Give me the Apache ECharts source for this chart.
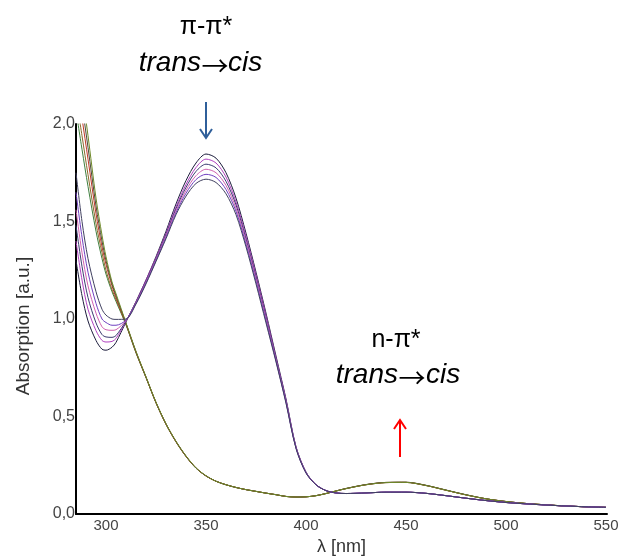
<!DOCTYPE html>
<html>
<head>
<meta charset="utf-8">
<script src="https://cdn.jsdelivr.net/npm/echarts@6/dist/echarts.min.js"></script>
<style>html,body{margin:0;padding:0;background:#fff}#c{width:618px;height:557px}</style>
</head>
<body>
<div id="c"></div>
<script>
// wavelengths (nm)
var wl = [285,288,291,295,298,300,303,305,310,315,320,325,330,335,340,345,350,355,360,365,370,375,380,385,390,395,400,405,410,415,420,430,440,450,460,470,480,490,500,510,520,530,540,550];

// trans-rich family (purple), pi-pi* band decreasing during irradiation
var trans1 = [1.30,1.12,0.99,0.89,0.845,0.840,0.855,0.88,0.985,1.09,1.20,1.32,1.45,1.59,1.71,1.80,1.846,1.825,1.75,1.62,1.44,1.24,1.03,0.81,0.59,0.345,0.215,0.15,0.12,0.108,0.105,0.108,0.112,0.112,0.106,0.094,0.081,0.069,0.059,0.052,0.046,0.041,0.037,0.034];
var trans2 = [1.40,1.20,1.05,0.94,0.89,0.882,0.885,0.90,0.988,1.088,1.20,1.315,1.44,1.575,1.69,1.777,1.820,1.80,1.728,1.60,1.425,1.228,1.02,0.80,0.585,0.343,0.214,0.15,0.12,0.108,0.105,0.108,0.112,0.112,0.106,0.094,0.081,0.069,0.059,0.052,0.046,0.041,0.037,0.034];
var trans3 = [1.48,1.27,1.11,0.98,0.92,0.908,0.906,0.915,0.99,1.085,1.195,1.31,1.435,1.565,1.675,1.757,1.794,1.775,1.706,1.585,1.41,1.216,1.01,0.795,0.58,0.341,0.213,0.15,0.12,0.108,0.105,0.108,0.112,0.112,0.106,0.094,0.081,0.069,0.059,0.052,0.046,0.041,0.037,0.034];
var trans4 = [1.56,1.34,1.17,1.03,0.96,0.945,0.942,0.945,0.992,1.082,1.19,1.305,1.428,1.555,1.66,1.735,1.768,1.75,1.685,1.568,1.397,1.205,1.00,0.79,0.576,0.34,0.212,0.15,0.12,0.108,0.105,0.108,0.112,0.112,0.106,0.094,0.081,0.069,0.059,0.052,0.046,0.041,0.037,0.034];
var trans5 = [1.65,1.42,1.24,1.08,1.00,0.982,0.968,0.968,0.995,1.08,1.185,1.30,1.42,1.545,1.645,1.715,1.742,1.726,1.664,1.552,1.383,1.193,0.99,0.785,0.572,0.338,0.211,0.15,0.12,0.108,0.105,0.108,0.112,0.112,0.106,0.094,0.081,0.069,0.059,0.052,0.046,0.041,0.037,0.034];
var trans6 = [1.75,1.50,1.31,1.14,1.05,1.02,1.00,0.998,1.00,1.077,1.18,1.295,1.412,1.535,1.63,1.695,1.717,1.70,1.642,1.535,1.37,1.18,0.98,0.78,0.568,0.336,0.21,0.15,0.12,0.108,0.105,0.108,0.112,0.112,0.106,0.094,0.081,0.069,0.059,0.052,0.046,0.041,0.037,0.034];

// cis-rich family (green / brown)
var cis1 = [2.07,1.87,1.68,1.45,1.31,1.23,1.14,1.09,0.97,0.826,0.70,0.57,0.46,0.37,0.295,0.235,0.195,0.168,0.15,0.136,0.125,0.116,0.107,0.099,0.09,0.087,0.088,0.094,0.105,0.118,0.13,0.15,0.161,0.162,0.146,0.122,0.098,0.078,0.064,0.054,0.047,0.041,0.037,0.034];
var cis2 = [2.14,1.94,1.74,1.49,1.34,1.25,1.15,1.10,0.972,0.828,0.70,0.57,0.46,0.37,0.295,0.235,0.195,0.168,0.15,0.136,0.125,0.116,0.107,0.099,0.09,0.087,0.088,0.094,0.105,0.118,0.131,0.151,0.162,0.163,0.147,0.122,0.098,0.078,0.064,0.054,0.047,0.041,0.037,0.034];
var cis3 = [2.24,2.03,1.82,1.54,1.37,1.28,1.17,1.11,0.975,0.83,0.701,0.571,0.461,0.371,0.296,0.236,0.195,0.168,0.15,0.136,0.125,0.116,0.107,0.099,0.09,0.087,0.088,0.094,0.105,0.118,0.13,0.15,0.161,0.162,0.146,0.122,0.098,0.078,0.064,0.054,0.047,0.041,0.037,0.034];
var cis4 = [2.31,2.10,1.88,1.58,1.40,1.30,1.18,1.12,0.978,0.832,0.702,0.572,0.462,0.372,0.297,0.236,0.196,0.168,0.15,0.136,0.125,0.116,0.107,0.099,0.09,0.087,0.088,0.094,0.105,0.118,0.131,0.151,0.162,0.163,0.147,0.123,0.099,0.078,0.064,0.054,0.047,0.041,0.037,0.034];
var cis5 = [2.38,2.17,1.94,1.62,1.43,1.32,1.19,1.13,0.98,0.834,0.703,0.573,0.463,0.373,0.298,0.237,0.196,0.168,0.15,0.136,0.125,0.116,0.107,0.099,0.09,0.087,0.088,0.094,0.105,0.118,0.13,0.15,0.161,0.162,0.146,0.122,0.098,0.078,0.064,0.054,0.047,0.041,0.037,0.034];

var xTicks = [300,350,400,450,500,550];

var cisCols = ['#3f7f3f','#8a6a2a','#c0392b','#4a4a3a','#6f8a2a'];
var transCols = ['#1c1c3c','#b040c0','#3a3a70','#d060b0','#7040c0','#404060'];

function pairs(arr){ return wl.map(function(w,i){ return [w, arr[i]]; }); }

var series = [];
[cis1,cis2,cis3,cis4,cis5].forEach(function(a,i){
  series.push({type:'line', data:pairs(a), smooth:0.3, showSymbol:false, clip:true,
    lineStyle:{width:1, color:cisCols[i]}, z:2});
});
[trans1,trans2,trans3,trans4,trans5,trans6].forEach(function(a,i){
  series.push({type:'line', data:pairs(a), smooth:0.3, showSymbol:false, clip:true,
    lineStyle:{width:1, color:transCols[i]}, z:3});
});

var FONT = '"Liberation Sans", Arial, sans-serif';
var ARR = '"Noto Sans CJK JP", "DejaVu Sans", sans-serif';
function t(x, y, text, font, fill, align){
  return {type:'text', x:x, y:y, style:{text:text, font:font, fill:fill, textAlign:align||'center', textVerticalAlign:'middle'}};
}
function vArrow(x, y1, y2, col, up){
  var hy = up ? y1 : y2, d = up ? 9 : -9;
  return [
    {type:'line', shape:{x1:x, y1:y1, x2:x, y2:y2}, style:{stroke:col, lineWidth:2}},
    {type:'polyline', shape:{points:[[x-6, hy+d],[x, hy],[x+6, hy+d]]}, style:{stroke:col, lineWidth:2, fill:null}}
  ];
}
var chart = echarts.init(document.getElementById('c'), null, {renderer:'canvas'});
chart.setOption({
  animation:false,
  backgroundColor:'#fff',
  grid:{left:76, right:11, top:124, bottom:43, containLabel:false, outerBoundsMode:'none'},
  xAxis:{type:'value', min:285, max:550.5,
    name:'λ [nm]', nameLocation:'middle', nameGap:24,
    nameTextStyle:{fontFamily:FONT, fontSize:18, color:'#333'},
    axisLine:{show:true, onZero:false, lineStyle:{color:'#000', width:2}},
    axisTick:{show:false},
    splitLine:{show:false},
    axisLabel:{customValues:xTicks, fontFamily:FONT, fontSize:15, color:'#444', margin:4}
  },
  yAxis:{type:'value', min:0, max:2.0, interval:0.5,
    name:'Absorption [a.u.]', nameLocation:'middle', nameGap:43, nameRotate:90,
    nameTextStyle:{fontFamily:FONT, fontSize:19, color:'#333', padding:[0,14,0,0]},
    axisLine:{show:true, lineStyle:{color:'#000', width:2}},
    axisTick:{show:false},
    splitLine:{show:false},
    axisLabel:{fontFamily:FONT, fontSize:16, color:'#444', margin:1,
      formatter:function(v){ return v.toFixed(1).replace('.', ','); }}
  },
  series:series,
  graphic:[
    t(206, 27, 'π-π*', '25px '+FONT, '#000'),
    t(201, 63, 'trans', 'italic 28px '+FONT, '#000', 'right'),
    t(215, 66, '→', '27px '+ARR, '#000'),
    t(228, 63, 'cis', 'italic 28px '+FONT, '#000', 'left'),
    t(396, 340, 'n-π*', '25px '+FONT, '#000'),
    t(398, 375, 'trans', 'italic 28px '+FONT, '#000', 'right'),
    t(412, 378, '→', '27px '+ARR, '#000'),
    t(426, 375, 'cis', 'italic 28px '+FONT, '#000', 'left')
  ].concat(vArrow(206, 102, 138, '#2f5f9a', false)).concat(vArrow(400, 420, 457, '#ff0000', true))
});
</script>
</body>
</html>
